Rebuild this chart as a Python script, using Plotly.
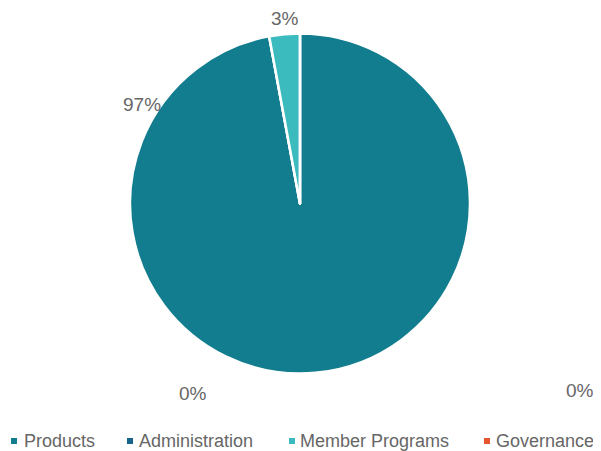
import plotly.graph_objects as go

categories = ["Products", "Administration", "Member Programs", "Governance"]
values = [97.0, 0.0, 2.9, 0.0]
colors = ["#127D8E", "#17648C", "#3BBBBD", "#E8542F"]

# page-pixel layout positions (601x451 window; page body has an 8px margin)
OFF = 8
W, H = 601 - OFF, 451 - OFF
label_px = [(142, 104), (193, 393), (285, 19), (580, 390)]   # % label centres
legend_marker_px = [14, 130, 292, 487]                        # legend square centres
legend_text_px = [23, 138, 299, 495]                          # legend text starts
legend_y_px = 441
pie_box = (130, 470, 32, 375)                                 # left, right, top, bottom

total = sum(values)
pct_text = [f"{round(v / total * 100):.0f}%" for v in values]


def fx(px):
    return (px - OFF) / W


def fy(py):
    return 1 - (py - OFF) / H


fig = go.Figure()
fig.add_trace(go.Pie(
    labels=categories,
    values=values,
    sort=False,
    direction="clockwise",
    rotation=0,
    marker=dict(colors=colors, line=dict(color="white", width=2.5)),
    textinfo="none",
    hoverinfo="label+percent",
    showlegend=False,
    domain=dict(x=[fx(pie_box[0]), fx(pie_box[1])],
                y=[fy(pie_box[3]), fy(pie_box[2])]),
))

FONT = "Liberation Sans, Arial, sans-serif"
GRAY = "#666666"

annotations = []
for (px, py), t in zip(label_px, pct_text):
    annotations.append(dict(
        x=fx(px), y=fy(py), xref="paper", yref="paper",
        text=t, showarrow=False, xanchor="center", yanchor="middle",
        font=dict(size=19, color=GRAY, family=FONT),
    ))

shapes = []
for name, col, mx, tx in zip(categories, colors, legend_marker_px, legend_text_px):
    shapes.append(dict(
        type="rect", xref="paper", yref="paper",
        xsizemode="pixel", ysizemode="pixel",
        xanchor=fx(mx), yanchor=fy(legend_y_px),
        x0=-3, x1=3, y0=-3, y1=3,
        fillcolor=col, line=dict(width=0),
    ))
    annotations.append(dict(
        x=fx(tx), y=fy(legend_y_px), xref="paper", yref="paper",
        text=name, showarrow=False, xanchor="left", yanchor="middle",
        borderpad=0,
        font=dict(size=18, color=GRAY, family=FONT),
    ))

fig.update_layout(
    width=W, height=H,
    margin=dict(l=0, r=0, t=0, b=0, autoexpand=False),
    paper_bgcolor="white", plot_bgcolor="white",
    showlegend=False,
    annotations=annotations,
    shapes=shapes,
    font=dict(family=FONT),
)

fig.write_html("out.html")
